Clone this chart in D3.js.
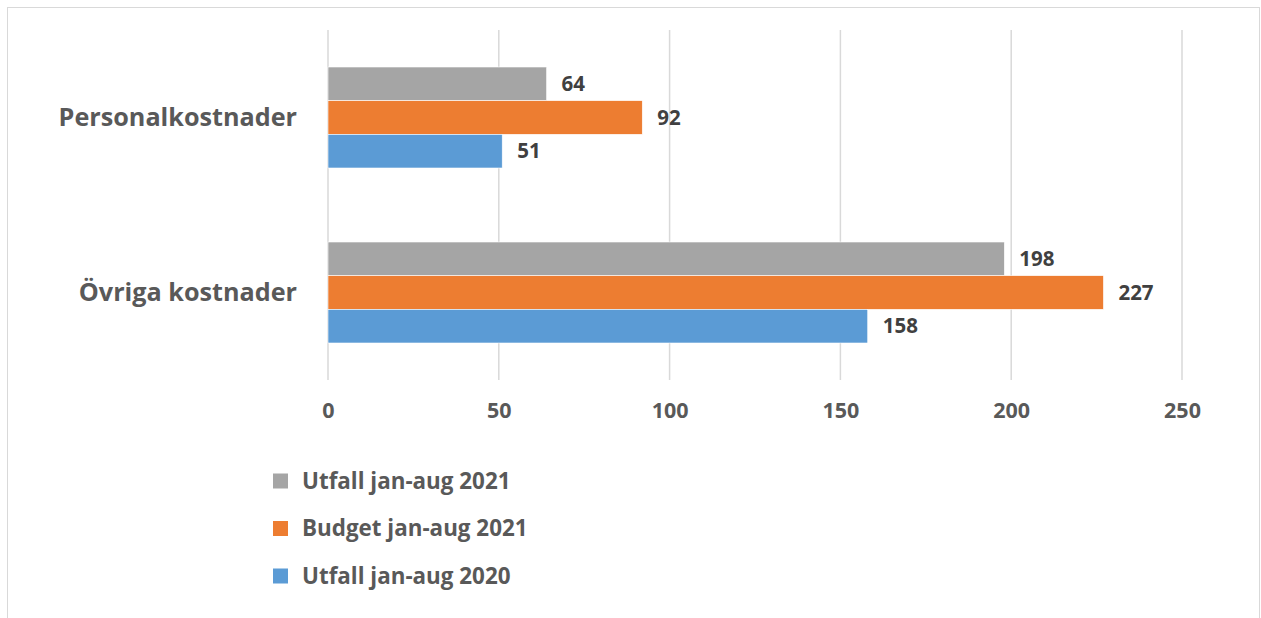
<!DOCTYPE html>
<html>
<head>
<meta charset="utf-8">
<script src="https://cdn.jsdelivr.net/npm/d3@7"></script>
<style>
  body { margin: 0; background: #fff; }
  svg { display: block; font-family: "Open Sans", Lato, sans-serif; font-weight: bold; }
</style>
</head>
<body>
<svg id="chart" width="1261" height="618"></svg>
<script>
const categories = ["Personalkostnader", "Övriga kostnader"];
const seriesNames = ["Utfall jan-aug 2021", "Budget jan-aug 2021", "Utfall jan-aug 2020"];
const utfall2021 = [64, 198];
const budget2021 = [92, 227];
const utfall2020 = [51, 158];
const xTicks = [0, 50, 100, 150, 200, 250];
const colors = ["#A5A5A5", "#ED7D31", "#5B9BD5"];

const seriesValues = [utfall2021, budget2021, utfall2020];

const svg = d3.select("#chart");

// chart border
svg.append("rect")
  .attr("x", 7.5).attr("y", 7.5)
  .attr("width", 1252).attr("height", 620)
  .attr("fill", "none")
  .attr("stroke", "#d9d9d9");

const x = d3.scaleLinear().domain([0, 250]).range([328, 1182]);
const y = d3.scaleBand().domain(categories).range([30, 380]).paddingInner(0).paddingOuter(0);
const inner = d3.scaleBand().domain(seriesNames).range([0, 101]);

// gridlines
svg.append("g")
  .selectAll("line")
  .data(xTicks)
  .join("line")
  .attr("x1", (d) => x(d)).attr("x2", (d) => x(d))
  .attr("y1", 30).attr("y2", 380)
  .attr("stroke", "#d9d9d9")
  .attr("stroke-width", 1.5);

// bars
const groups = svg.append("g")
  .selectAll("g")
  .data(categories)
  .join("g")
  .attr("transform", (d) => `translate(0,${y(d) + (y.bandwidth() - 101) / 2})`);

groups.selectAll("rect")
  .data((d, i) => seriesNames.map((s, j) => ({ s, j, v: seriesValues[j][i] })))
  .join("rect")
  .attr("x", x(0))
  .attr("y", (d) => inner(d.s))
  .attr("width", (d) => x(d.v) - x(0))
  .attr("height", inner.bandwidth())
  .attr("fill", (d) => colors[d.j])
  .attr("stroke", "#fff")
  .attr("stroke-width", 0.6);

groups.selectAll("text")
  .data((d, i) => seriesNames.map((s, j) => ({ s, j, v: seriesValues[j][i] })))
  .join("text")
  .attr("x", (d) => x(d.v) + 15)
  .attr("y", (d) => inner(d.s) + inner.bandwidth() / 2)
  .attr("dy", "0.35em")
  .attr("fill", "#404040")
  .attr("font-size", 20.5)
  .text((d) => d.v);

// category labels
svg.append("g")
  .selectAll("text")
  .data(categories)
  .join("text")
  .attr("x", 297)
  .attr("y", (d) => y(d) + y.bandwidth() / 2)
  .attr("dy", "0.35em")
  .attr("text-anchor", "end")
  .attr("fill", "#595959")
  .attr("font-size", 25.2)
  .text((d) => d);

// x axis tick labels
const axis = svg.append("g")
  .attr("transform", "translate(0,410)")
  .call(d3.axisBottom(x).tickValues(xTicks).tickSize(0).tickPadding(0));
axis.select(".domain").remove();
axis.selectAll("text")
  .attr("dy", "0.35em")
  .attr("fill", "#595959")
  .attr("font-size", 21.5)
  .attr("font-family", "'Open Sans', sans-serif")
  .attr("font-weight", "bold");

// legend
const legend = svg.append("g")
  .selectAll("g")
  .data(seriesNames)
  .join("g")
  .attr("transform", (d, i) => `translate(273,${481 + i * 47.5})`);
legend.append("rect")
  .attr("x", 0).attr("y", -7.5)
  .attr("width", 15).attr("height", 15)
  .attr("fill", (d, i) => colors[i]);
legend.append("text")
  .attr("x", 29)
  .attr("dy", "0.35em")
  .attr("fill", "#595959")
  .attr("font-size", 22.4)
  .text((d) => d);
</script>
</body>
</html>
